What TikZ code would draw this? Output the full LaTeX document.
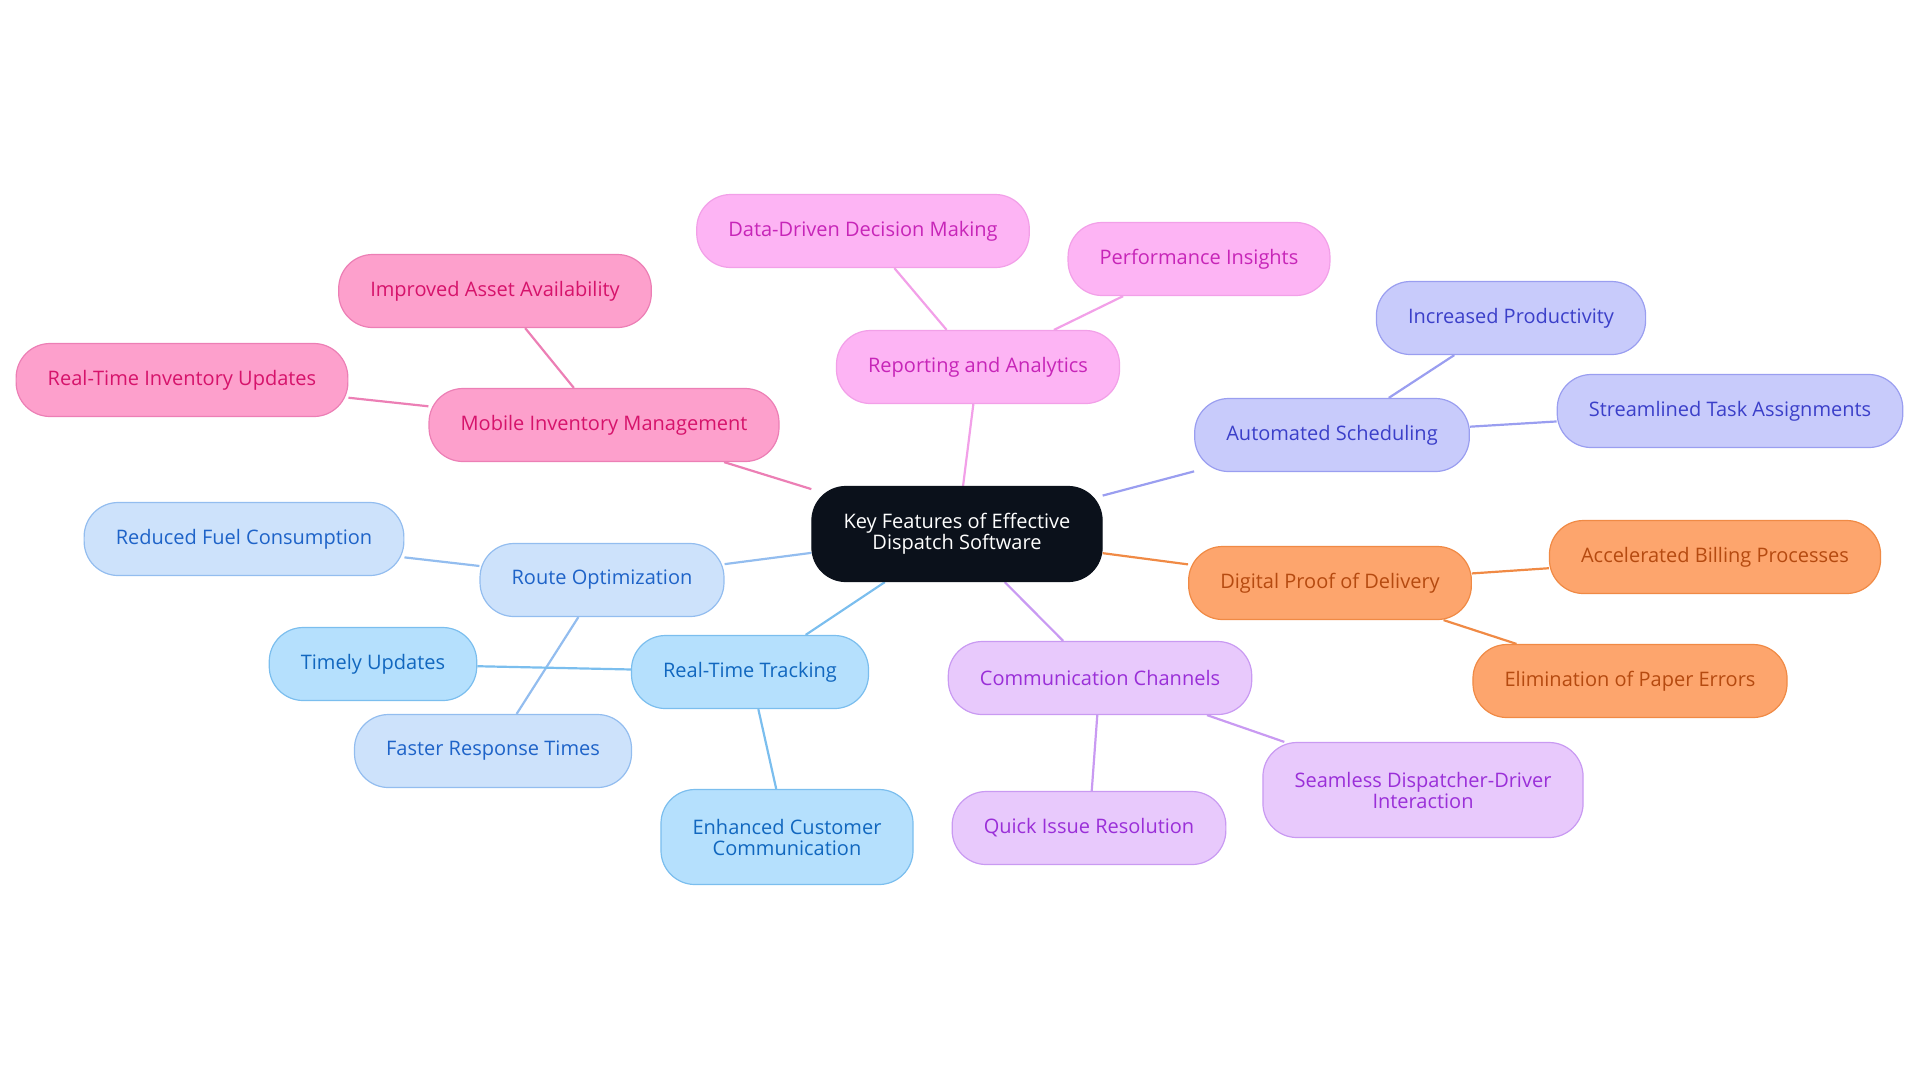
\documentclass[tikz,border=0pt]{standalone}
\usepackage{fontspec}
\setmainfont{Open Sans}
\usetikzlibrary{backgrounds}

\definecolor{hubfill}{HTML}{0B111B}
\definecolor{pinkfill}{HTML}{FDA0CC}\definecolor{pinkline}{HTML}{EC7FB5}\definecolor{pinktext}{HTML}{D6136B}
\definecolor{magfill}{HTML}{FDB4F4}\definecolor{magline}{HTML}{F2A0E8}\definecolor{magtext}{HTML}{C725B8}
\definecolor{lavfill}{HTML}{C8CBFB}\definecolor{lavline}{HTML}{9A9EF0}\definecolor{lavtext}{HTML}{3B3FC9}
\definecolor{orgfill}{HTML}{FDA56D}\definecolor{orgline}{HTML}{F08A45}\definecolor{orgtext}{HTML}{B54A10}
\definecolor{purfill}{HTML}{E8C9FC}\definecolor{purline}{HTML}{C99AF2}\definecolor{purtext}{HTML}{9A2FD8}
\definecolor{routefill}{HTML}{CDE2FB}\definecolor{routeline}{HTML}{93BDEF}\definecolor{routetext}{HTML}{1E63C8}
\definecolor{trackfill}{HTML}{B5E0FD}\definecolor{trackline}{HTML}{7BBEEE}\definecolor{tracktext}{HTML}{1167BF}

\tikzset{
  box/.style={rounded corners=17pt, line width=0.6pt, minimum height=36.5pt,
    inner xsep=15.8pt, align=center, font=\fontsize{10}{10.5}\selectfont},
  hub/.style={box, fill=hubfill, draw=hubfill, text=white, minimum height=47.5pt},
  pinkbox/.style={box, fill=pinkfill, draw=pinkline, text=pinktext},
  magbox/.style={box, fill=magfill, draw=magline, text=magtext},
  lavbox/.style={box, fill=lavfill, draw=lavline, text=lavtext},
  orgbox/.style={box, fill=orgfill, draw=orgline, text=orgtext},
  purbox/.style={box, fill=purfill, draw=purline, text=purtext},
  routebox/.style={box, fill=routefill, draw=routeline, text=routetext},
  trackbox/.style={box, fill=trackfill, draw=trackline, text=tracktext},
  link/.style={line width=1.1pt}
}

\begin{document}
\begin{tikzpicture}[x=0.5pt, y=-0.5pt]
\useasboundingbox (0,0) rectangle (1920,1083);

\node[hub] (hub) at (957,534) {Key Features of Effective\\Dispatch Software};

% reporting
\node[magbox] (report) at (978,367) {Reporting and Analytics};
\node[magbox] (datadriven) at (863,231) {Data-Driven Decision Making};
\node[magbox] (perform) at (1199,259) {Performance Insights};

% inventory
\node[pinkbox] (inventory) at (604,425) {Mobile Inventory Management};
\node[pinkbox] (asset) at (495,291) {Improved Asset Availability};
\node[pinkbox] (invupd) at (182,380) {Real-Time Inventory Updates};

% scheduling
\node[lavbox] (sched) at (1332,435) {Automated Scheduling};
\node[lavbox] (product) at (1511,318) {Increased Productivity};
\node[lavbox] (tasks) at (1730,411) {Streamlined Task Assignments};

% proof of delivery
\node[orgbox] (proof) at (1330,583) {Digital Proof of Delivery};
\node[orgbox] (billing) at (1715,557) {Accelerated Billing Processes};
\node[orgbox] (paper) at (1630,681) {Elimination of Paper Errors};

% communication
\node[purbox] (comm) at (1100,678) {Communication Channels};
\node[purbox] (quick) at (1089,828) {Quick Issue Resolution};
\node[purbox, minimum height=47.5pt] (seamless) at (1423,790) {Seamless Dispatcher-Driver\\Interaction};

% route
\node[routebox] (route) at (602,580) {Route Optimization};
\node[routebox] (fuel) at (244,539) {Reduced Fuel Consumption};
\node[routebox] (faster) at (493,751) {Faster Response Times};

% tracking
\node[trackbox] (track) at (750,672) {Real-Time Tracking};
\node[trackbox] (timely) at (373,664) {Timely Updates};
\node[trackbox, minimum height=47.5pt] (custcomm) at (787,837) {Enhanced Customer\\Communication};

\begin{scope}[on background layer]
\foreach \a/\b in {hub/report, report/datadriven, report/perform} \draw[link, magline] (\a) -- (\b);
\foreach \a/\b in {hub/inventory, inventory/asset, inventory/invupd} \draw[link, pinkline] (\a) -- (\b);
\foreach \a/\b in {hub/sched, sched/product, sched/tasks} \draw[link, lavline] (\a) -- (\b);
\foreach \a/\b in {hub/proof, proof/billing, proof/paper} \draw[link, orgline] (\a) -- (\b);
\foreach \a/\b in {hub/comm, comm/quick, comm/seamless} \draw[link, purline] (\a) -- (\b);
\foreach \a/\b in {hub/route, route/fuel, route/faster} \draw[link, routeline] (\a) -- (\b);
\foreach \a/\b in {hub/track, track/timely, track/custcomm} \draw[link, trackline] (\a) -- (\b);
\end{scope}
\end{tikzpicture}
\end{document}
